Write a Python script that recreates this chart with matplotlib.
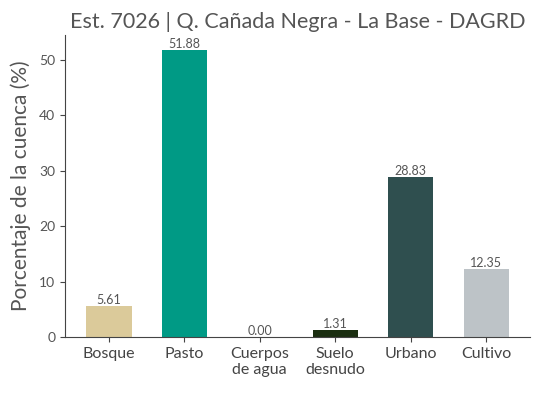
import matplotlib.pyplot as plt

categories = ['Bosque', 'Pasto', 'Cuerpos\nde agua', 'Suelo\ndesnudo', 'Urbano', 'Cultivo']
values = [5.61, 51.88, 0.00, 1.31, 28.83, 12.35]
colors = ['#dbca9a', '#009a85', '#3b7dd8', '#1a2e10', '#2f4f4f', '#bdc3c7']

plt.rcParams.update({'font.family': 'Lato'})
text_color = '#555555'

fig = plt.figure(figsize=(5.38, 3.93), dpi=100)
ax = fig.add_axes([0.121, 0.1425, 0.864, 0.768])

bars = ax.bar(range(len(values)), values, width=0.6, color=colors)
for b, v in zip(bars, values):
    ax.text(b.get_x() + b.get_width() / 2, v, f'{v:.2f}', ha='center', va='bottom',
            fontsize=9, color=text_color)

ax.set_xticks(range(len(values)))
ax.set_xticklabels(categories, fontsize=11.5, color=text_color, linespacing=1.2)
ax.tick_params(axis='y', labelsize=10, labelcolor=text_color, colors='#444444')
ax.tick_params(axis='x', colors='#444444')
ax.set_ylim(0, 54.5)
ax.set_ylabel('Porcentaje de la cuenca (%)', fontsize=15, color=text_color, labelpad=6)
ax.set_title('Est. 7026 | Q. Cañada Negra - La Base - DAGRD', fontsize=15.5, color=text_color, pad=5)
ax.spines['top'].set_visible(False)
ax.spines['right'].set_visible(False)
ax.spines['left'].set_color('#444444')
ax.spines['bottom'].set_color('#444444')

plt.savefig('out.png', dpi=100)
